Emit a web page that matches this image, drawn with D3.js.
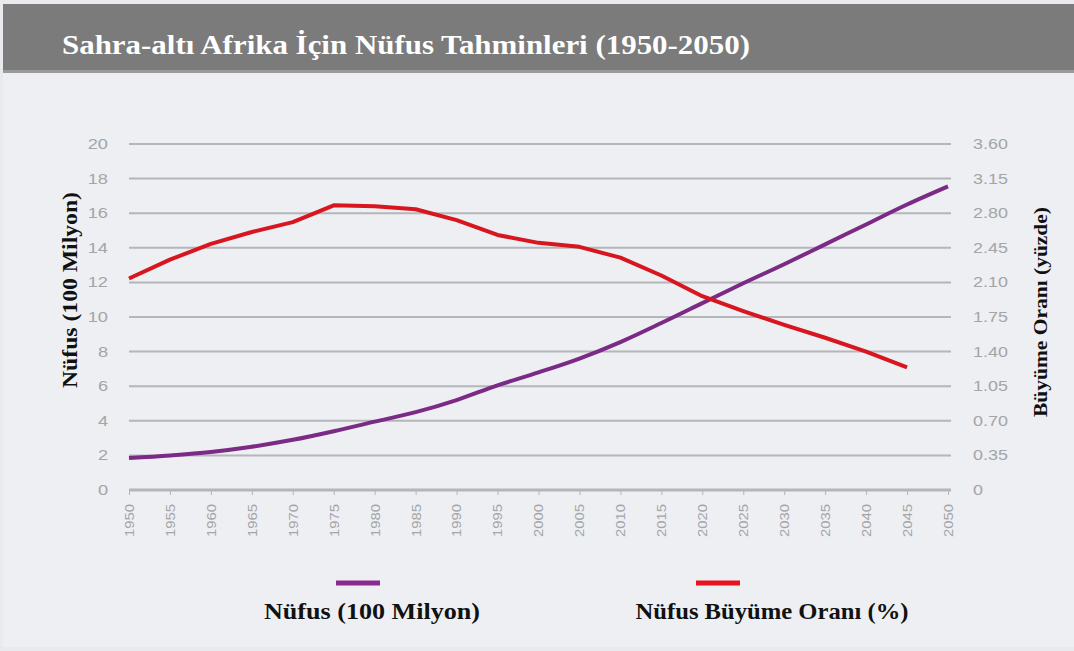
<!DOCTYPE html>
<html><head><meta charset="utf-8">
<script src="https://cdn.jsdelivr.net/npm/d3@7"></script>
<style>
html,body{margin:0;padding:0;background:#fff;}
svg{display:block;}
</style></head>
<body>
<svg id="chart" width="1074" height="651"></svg>
<script>
const years = [1950,1955,1960,1965,1970,1975,1980,1985,1990,1995,2000,2005,2010,2015,2020,2025,2030,2035,2040,2045,2050];
const population = [1.85,2.0,2.2,2.5,2.9,3.4,3.95,4.5,5.2,6.05,6.8,7.6,8.55,9.65,10.8,11.95,13.05,14.2,15.35,16.5,17.55];
const rateYears = [1950,1955,1960,1965,1970,1975,1980,1985,1990,1995,2000,2005,2010,2015,2020,2025,2030,2035,2040,2045];
const growthRate = [2.14,2.33,2.49,2.61,2.71,2.88,2.87,2.84,2.73,2.58,2.50,2.46,2.35,2.17,1.96,1.81,1.67,1.54,1.40,1.24];
const leftTicks = [0,2,4,6,8,10,12,14,16,18,20];
const rightTickLabels = ["0","0.35","0.70","1.05","1.40","1.75","2.10","2.45","2.80","3.15","3.60"];
const titleText = "Sahra-altı Afrika İçin Nüfus Tahminleri (1950-2050)";
const leftTitle = "Nüfus  (100 Milyon)";
const rightTitle = "Büyüme Oranı (yüzde)";
const legendLabels = ["Nüfus (100 Milyon)", "Nüfus Büyüme Oranı (%)"];

const svg = d3.select("#chart");
const W = 1074, H = 651;
const m = {left:129, right:948, top:144, bottom:490};

function stretch(sel, factor){
  sel.each(function(){
    const len = this.getComputedTextLength();
    d3.select(this).attr("textLength", len*factor).attr("lengthAdjust","spacingAndGlyphs");
  });
}

// background
svg.append("rect").attr("x",0).attr("y",0).attr("width",W).attr("height",H).attr("fill","#e8eaed");
svg.append("rect").attr("x",3).attr("y",72).attr("width",W-3).attr("height",H-76).attr("fill","#edeff2");
svg.append("rect").attr("x",3).attr("y",4).attr("width",W-3).attr("height",68).attr("fill","#7b7b7b");
svg.append("rect").attr("x",3).attr("y",70).attr("width",W-3).attr("height",3).attr("fill","#9a9a9a");
svg.append("text").attr("x",62).attr("y",54).text(titleText)
  .attr("fill","#fff").attr("font-family","Liberation Serif, serif").attr("font-weight","bold").attr("font-size",28)
  .attr("textLength",688).attr("lengthAdjust","spacingAndGlyphs");

const x = d3.scaleLinear().domain([1950,2050]).range([m.left,m.right]);
const yL = d3.scaleLinear().domain([0,20]).range([m.bottom,m.top]);
const yR = d3.scaleLinear().domain([0,3.5]).range([m.bottom,m.top]);

// grid
svg.append("g").selectAll("line").data(leftTicks).join("line")
  .attr("x1",m.left).attr("x2",m.right+3)
  .attr("y1",d=>yL(d)).attr("y2",d=>yL(d))
  .attr("stroke","#b4b6b9").attr("stroke-width",d=>d===0?3:2);

const tickFont = "Liberation Sans, Arial, sans-serif";
// left axis
const gl = svg.append("g").attr("transform",`translate(${m.left-21},0)`)
  .call(d3.axisLeft(yL).tickValues(leftTicks).tickSize(0).tickPadding(0));
gl.select(".domain").remove();
gl.selectAll("text").attr("fill","#a3a5a8").attr("font-family",tickFont).attr("font-size",14);
stretch(gl.selectAll("text"),1.3);

// right axis
const rTickVals = rightTickLabels.map((d,i)=>i*0.35);
const gr = svg.append("g").attr("transform",`translate(${m.right+25},0)`)
  .call(d3.axisRight(yR).tickValues(rTickVals).tickSize(0).tickPadding(0).tickFormat((d,i)=>rightTickLabels[i]));
gr.select(".domain").remove();
gr.selectAll("text").attr("fill","#a3a5a8").attr("font-family",tickFont).attr("font-size",14);
stretch(gr.selectAll("text"),1.28);

// x axis
const gx = svg.append("g").attr("transform",`translate(0,${m.bottom+1})`)
  .call(d3.axisBottom(x).tickValues(years).tickSize(4).tickPadding(6).tickFormat(d3.format("d")));
gx.select(".domain").remove();
gx.selectAll("line").attr("stroke","#b4b6b9");
gx.selectAll("text").attr("fill","#a3a5a8").attr("font-family",tickFont).attr("font-size",12.5)
  .attr("transform","rotate(-90)").attr("text-anchor","end").attr("dy","0.35em").attr("x",-13).attr("y",0);
stretch(gx.selectAll("text"),1.19);

// lines
const lineP = d3.line().x((d,i)=>x(years[i])).y(d=>yL(d)).curve(d3.curveMonotoneX);
const lineR = d3.line().x((d,i)=>x(rateYears[i])).y(d=>yR(d));
svg.append("path").datum(population).attr("d",lineP).attr("fill","none").attr("stroke","#7b2a86").attr("stroke-width",4);
svg.append("path").datum(growthRate).attr("d",lineR).attr("fill","none").attr("stroke","#d7161f").attr("stroke-width",4).attr("stroke-linejoin","round");

// axis titles
svg.append("text").attr("transform","translate(77,290) rotate(-90)").attr("text-anchor","middle").text(leftTitle)
  .attr("font-family","Liberation Serif, serif").attr("font-weight","bold").attr("font-size",20).attr("fill","#111")
  .attr("textLength",196).attr("lengthAdjust","spacingAndGlyphs");
svg.append("text").attr("transform","translate(1047,312) rotate(-90)").attr("text-anchor","middle").text(rightTitle)
  .attr("font-family","Liberation Serif, serif").attr("font-weight","bold").attr("font-size",19).attr("fill","#111")
  .attr("textLength",210).attr("lengthAdjust","spacingAndGlyphs");

// legend
const legend = [{c:"#8b2a8e", x:358, tx:372, w:216, label:legendLabels[0]},{c:"#e8131f", x:718, tx:772, w:273, label:legendLabels[1]}];
legend.forEach(l=>{
  svg.append("line").attr("x1",l.x-22).attr("x2",l.x+22).attr("y1",583).attr("y2",583).attr("stroke",l.c).attr("stroke-width",5);
  svg.append("text").attr("x",l.tx).attr("y",619).attr("text-anchor","middle").text(l.label)
    .attr("font-family","Liberation Serif, serif").attr("font-weight","bold").attr("font-size",24).attr("fill","#111")
    .attr("textLength",l.w).attr("lengthAdjust","spacingAndGlyphs");
});
</script>
</body></html>
